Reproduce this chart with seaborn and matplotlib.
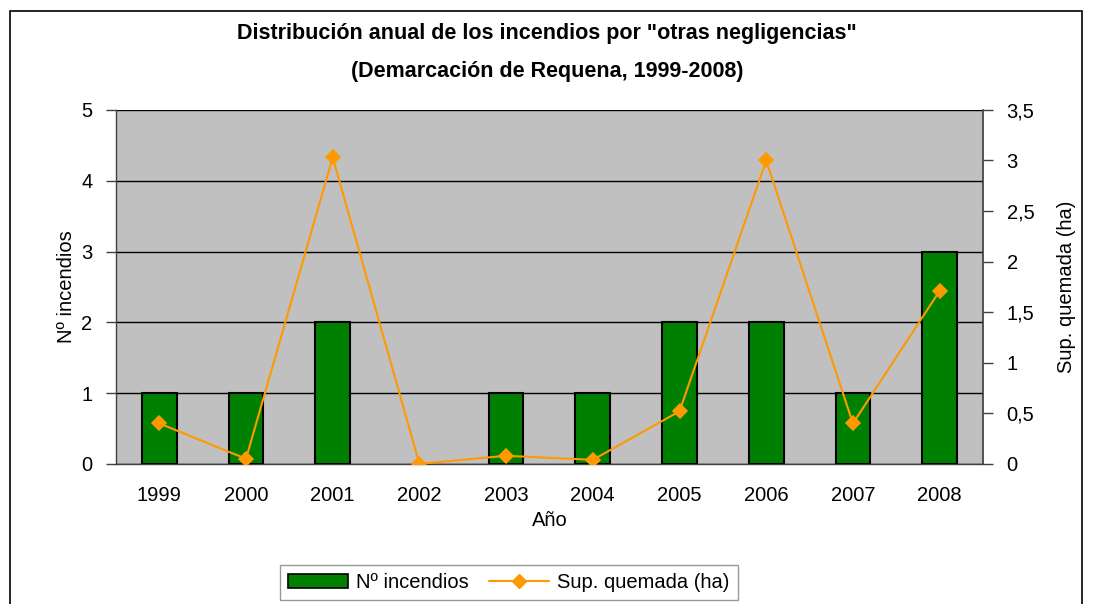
import numpy as np
import pandas as pd
import seaborn as sns
import matplotlib.pyplot as plt
from matplotlib.patches import Rectangle, Patch
from matplotlib.lines import Line2D
from matplotlib.ticker import FuncFormatter, MultipleLocator

years = ["1999", "2000", "2001", "2002", "2003", "2004", "2005", "2006", "2007", "2008"]
n_incendios = [1, 1, 2, 0, 1, 1, 2, 2, 1, 3]
sup_quemada = [0.40, 0.05, 3.03, 0.0, 0.08, 0.04, 0.52, 3.0, 0.40, 1.71]

sns.set_theme(style="white")
plt.rcParams['font.family'] = ['Liberation Sans', 'DejaVu Sans']
plt.rcParams['text.color'] = 'black'
plt.rcParams['axes.labelcolor'] = 'black'
fs = 14.5

df = pd.DataFrame({"year": years, "n": n_incendios, "sup": sup_quemada})

fig = plt.figure(figsize=(10.94, 6.04), dpi=100)
ax = fig.add_axes([0.106, 0.232, 0.7925, 0.586])
ax.set_facecolor("#c0c0c0")

sns.barplot(data=df, x="year", y="n", order=years, color="#008000",
            width=0.40, edgecolor="black", linewidth=1.5, saturation=1, ax=ax, zorder=3)
# hide the outline of empty bars
for p in ax.patches:
    if p.get_height() == 0:
        p.set_visible(False)
ax.set_ylim(0, 5)
ax.set_xlim(-0.5, 9.5)
ax.yaxis.set_major_locator(MultipleLocator(1))
ax.grid(axis="y", color="black", linewidth=1, zorder=1)
ax.set_axisbelow(True)
for s in ["top", "right"]:
    ax.spines[s].set_visible(False)
for s in ["left", "bottom"]:
    ax.spines[s].set_color("#404040")
    ax.spines[s].set_linewidth(1)
ax.set_xticks(np.arange(10))
ax.set_xticks(np.arange(-0.5, 10, 1), minor=True)
ax.tick_params(axis="x", which="major", length=0, labelsize=fs, pad=16, labelcolor="black")
ax.tick_params(axis="x", which="minor", length=7, width=1, color="#404040", direction="out")
ax.tick_params(axis="y", length=7, width=1, color="#404040", labelsize=fs, direction="out",
               left=True, pad=10, labelcolor="black")
ax.set_xlabel("Año", fontsize=fs, labelpad=4)
ax.set_ylabel("Nº incendios", fontsize=fs, labelpad=4)

ax2 = ax.twinx()
sns.pointplot(data=df, x="year", y="sup", order=years, color="#ff9900",
              markers="D", markersize=7, linewidth=1.5, ax=ax2, zorder=5)
ax2.set_ylim(0, 3.5)
ax2.set_xlim(-0.5, 9.5)
ax2.yaxis.set_major_locator(MultipleLocator(0.5))
ax2.yaxis.set_major_formatter(FuncFormatter(lambda v, p: f"{v:g}".replace(".", ",")))
for s in ["top", "left", "bottom"]:
    ax2.spines[s].set_visible(False)
ax2.spines["right"].set_color("#404040")
ax2.tick_params(axis="y", length=7, width=1, color="#404040", labelsize=fs, direction="out",
                right=True, pad=10, labelcolor="black")
ax2.set_ylabel("Sup. quemada (ha)", fontsize=fs, labelpad=16)

tfs = 15.5
fig.text(0.5, 0.945, 'Distribución anual de los incendios por "otras negligencias"',
         ha="center", va="center", fontsize=tfs, fontweight="bold")
fig.text(0.5, 0.881, '(Demarcación de Requena, 1999-2008)',
         ha="center", va="center", fontsize=tfs, fontweight="bold")

fig.patches.append(Rectangle((10 / 1094, -0.1), 1072 / 1094, 1.1 - 11 / 604,
                             transform=fig.transFigure, fill=False,
                             edgecolor="black", linewidth=1.2))

handles = [Patch(facecolor="#008000", edgecolor="black", linewidth=1.2),
           Line2D([], [], color="#ff9900", marker="D", markersize=7, linewidth=1.5)]
fig.legend(handles, ["Nº incendios", "Sup. quemada (ha)"], loc="center",
           bbox_to_anchor=(0.465, 0.036), ncol=2, fontsize=fs, frameon=True,
           fancybox=False, edgecolor="#808080", handlelength=3, columnspacing=1.0,
           handletextpad=0.4, borderpad=0.4)

fig.savefig("out.png", dpi=100)
